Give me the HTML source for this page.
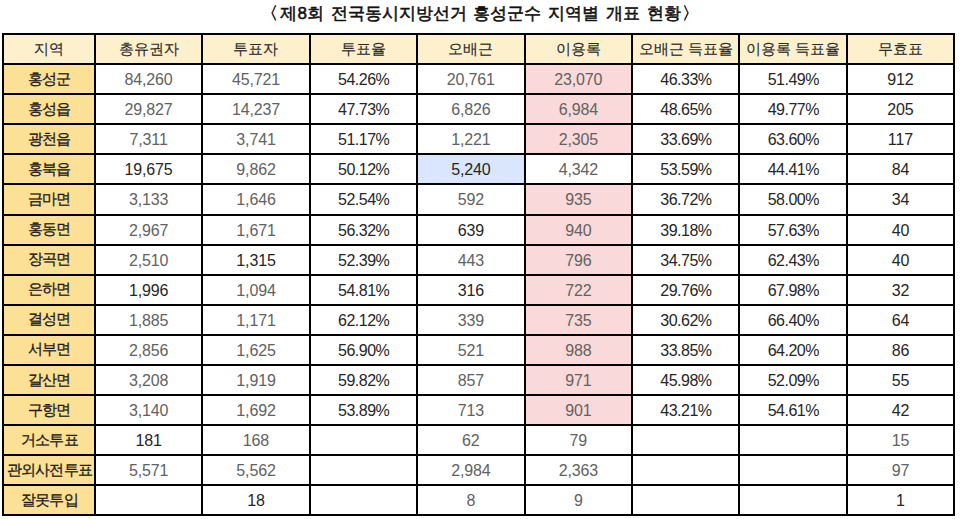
<!DOCTYPE html><html><head><meta charset="utf-8"><style>
*{margin:0;padding:0;box-sizing:border-box}
html,body{width:960px;height:519px;background:#fff;overflow:hidden;font-family:"Liberation Sans",sans-serif}
.t{position:absolute;left:0;top:4px;width:960px;text-align:center;font-size:17px;font-weight:normal;-webkit-text-stroke:0.55px #111;color:#111;line-height:20px;white-space:nowrap;word-spacing:2px}
.c{position:absolute;display:flex;align-items:center;justify-content:center;white-space:nowrap}
.h{background:#fdf1cd;color:#2b2b2b;font-size:15px;-webkit-text-stroke:0.15px #2b2b2b}
.k{background:#fbe095;color:#1a1a1a;font-size:15px;letter-spacing:-0.8px;text-indent:0.8px;-webkit-text-stroke:0.3px #1a1a1a}
.n{font-size:16px;letter-spacing:-0.15px;padding-top:2px}
.g{color:#626262}
.d{color:#262626}
.p{background:#f9d9d9}
.b{background:#d9e6fb}
.l{position:absolute;background:#000}
.pc{letter-spacing:-0.5px;text-indent:0.5px}
</style></head><body>
<div class="t"><span style="margin-right:2px">〈</span>제8회 전국동시지방선거 홍성군수 지역별 개표 현황<span style="margin-left:1px">〉</span></div>
<div class="c h" style="left:3.00px;top:34.00px;width:91.90px;height:30.09px">지역</div>
<div class="c h" style="left:94.90px;top:34.00px;width:107.40px;height:30.09px">총유권자</div>
<div class="c h" style="left:202.30px;top:34.00px;width:107.40px;height:30.09px">투표자</div>
<div class="c h" style="left:309.70px;top:34.00px;width:107.40px;height:30.09px">투표율</div>
<div class="c h" style="left:417.10px;top:34.00px;width:107.50px;height:30.09px">오배근</div>
<div class="c h" style="left:524.60px;top:34.00px;width:107.40px;height:30.09px">이용록</div>
<div class="c h" style="left:632.00px;top:34.00px;width:107.40px;height:30.09px">오배근 득표율</div>
<div class="c h" style="left:739.40px;top:34.00px;width:107.40px;height:30.09px">이용록 득표율</div>
<div class="c h" style="left:846.80px;top:34.00px;width:107.20px;height:30.09px">무효표</div>
<div class="c k" style="left:3.00px;top:64.09px;width:91.90px;height:30.09px">홍성군</div>
<div class="c n g" style="left:94.90px;top:64.09px;width:107.40px;height:30.09px">84,260</div>
<div class="c n g" style="left:202.30px;top:64.09px;width:107.40px;height:30.09px">45,721</div>
<div class="c n d pc" style="left:309.70px;top:64.09px;width:107.40px;height:30.09px">54.26%</div>
<div class="c n g" style="left:417.10px;top:64.09px;width:107.50px;height:30.09px">20,761</div>
<div class="c n g p" style="left:524.60px;top:64.09px;width:107.40px;height:30.09px">23,070</div>
<div class="c n d pc" style="left:632.00px;top:64.09px;width:107.40px;height:30.09px">46.33%</div>
<div class="c n d pc" style="left:739.40px;top:64.09px;width:107.40px;height:30.09px">51.49%</div>
<div class="c n d" style="left:846.80px;top:64.09px;width:107.20px;height:30.09px">912</div>
<div class="c k" style="left:3.00px;top:94.18px;width:91.90px;height:30.09px">홍성읍</div>
<div class="c n g" style="left:94.90px;top:94.18px;width:107.40px;height:30.09px">29,827</div>
<div class="c n g" style="left:202.30px;top:94.18px;width:107.40px;height:30.09px">14,237</div>
<div class="c n d pc" style="left:309.70px;top:94.18px;width:107.40px;height:30.09px">47.73%</div>
<div class="c n g" style="left:417.10px;top:94.18px;width:107.50px;height:30.09px">6,826</div>
<div class="c n g p" style="left:524.60px;top:94.18px;width:107.40px;height:30.09px">6,984</div>
<div class="c n d pc" style="left:632.00px;top:94.18px;width:107.40px;height:30.09px">48.65%</div>
<div class="c n d pc" style="left:739.40px;top:94.18px;width:107.40px;height:30.09px">49.77%</div>
<div class="c n d" style="left:846.80px;top:94.18px;width:107.20px;height:30.09px">205</div>
<div class="c k" style="left:3.00px;top:124.27px;width:91.90px;height:30.09px">광천읍</div>
<div class="c n g" style="left:94.90px;top:124.27px;width:107.40px;height:30.09px">7,311</div>
<div class="c n g" style="left:202.30px;top:124.27px;width:107.40px;height:30.09px">3,741</div>
<div class="c n d pc" style="left:309.70px;top:124.27px;width:107.40px;height:30.09px">51.17%</div>
<div class="c n g" style="left:417.10px;top:124.27px;width:107.50px;height:30.09px">1,221</div>
<div class="c n g p" style="left:524.60px;top:124.27px;width:107.40px;height:30.09px">2,305</div>
<div class="c n d pc" style="left:632.00px;top:124.27px;width:107.40px;height:30.09px">33.69%</div>
<div class="c n d pc" style="left:739.40px;top:124.27px;width:107.40px;height:30.09px">63.60%</div>
<div class="c n d" style="left:846.80px;top:124.27px;width:107.20px;height:30.09px">117</div>
<div class="c k" style="left:3.00px;top:154.36px;width:91.90px;height:30.09px">홍북읍</div>
<div class="c n d" style="left:94.90px;top:154.36px;width:107.40px;height:30.09px">19,675</div>
<div class="c n g" style="left:202.30px;top:154.36px;width:107.40px;height:30.09px">9,862</div>
<div class="c n d pc" style="left:309.70px;top:154.36px;width:107.40px;height:30.09px">50.12%</div>
<div class="c n d b" style="left:417.10px;top:154.36px;width:107.50px;height:30.09px">5,240</div>
<div class="c n g" style="left:524.60px;top:154.36px;width:107.40px;height:30.09px">4,342</div>
<div class="c n d pc" style="left:632.00px;top:154.36px;width:107.40px;height:30.09px">53.59%</div>
<div class="c n d pc" style="left:739.40px;top:154.36px;width:107.40px;height:30.09px">44.41%</div>
<div class="c n d" style="left:846.80px;top:154.36px;width:107.20px;height:30.09px">84</div>
<div class="c k" style="left:3.00px;top:184.45px;width:91.90px;height:30.09px">금마면</div>
<div class="c n g" style="left:94.90px;top:184.45px;width:107.40px;height:30.09px">3,133</div>
<div class="c n g" style="left:202.30px;top:184.45px;width:107.40px;height:30.09px">1,646</div>
<div class="c n d pc" style="left:309.70px;top:184.45px;width:107.40px;height:30.09px">52.54%</div>
<div class="c n g" style="left:417.10px;top:184.45px;width:107.50px;height:30.09px">592</div>
<div class="c n g p" style="left:524.60px;top:184.45px;width:107.40px;height:30.09px">935</div>
<div class="c n d pc" style="left:632.00px;top:184.45px;width:107.40px;height:30.09px">36.72%</div>
<div class="c n d pc" style="left:739.40px;top:184.45px;width:107.40px;height:30.09px">58.00%</div>
<div class="c n d" style="left:846.80px;top:184.45px;width:107.20px;height:30.09px">34</div>
<div class="c k" style="left:3.00px;top:214.54px;width:91.90px;height:30.09px">홍동면</div>
<div class="c n g" style="left:94.90px;top:214.54px;width:107.40px;height:30.09px">2,967</div>
<div class="c n g" style="left:202.30px;top:214.54px;width:107.40px;height:30.09px">1,671</div>
<div class="c n d pc" style="left:309.70px;top:214.54px;width:107.40px;height:30.09px">56.32%</div>
<div class="c n d" style="left:417.10px;top:214.54px;width:107.50px;height:30.09px">639</div>
<div class="c n g p" style="left:524.60px;top:214.54px;width:107.40px;height:30.09px">940</div>
<div class="c n d pc" style="left:632.00px;top:214.54px;width:107.40px;height:30.09px">39.18%</div>
<div class="c n d pc" style="left:739.40px;top:214.54px;width:107.40px;height:30.09px">57.63%</div>
<div class="c n d" style="left:846.80px;top:214.54px;width:107.20px;height:30.09px">40</div>
<div class="c k" style="left:3.00px;top:244.63px;width:91.90px;height:30.09px">장곡면</div>
<div class="c n g" style="left:94.90px;top:244.63px;width:107.40px;height:30.09px">2,510</div>
<div class="c n d" style="left:202.30px;top:244.63px;width:107.40px;height:30.09px">1,315</div>
<div class="c n d pc" style="left:309.70px;top:244.63px;width:107.40px;height:30.09px">52.39%</div>
<div class="c n g" style="left:417.10px;top:244.63px;width:107.50px;height:30.09px">443</div>
<div class="c n g p" style="left:524.60px;top:244.63px;width:107.40px;height:30.09px">796</div>
<div class="c n d pc" style="left:632.00px;top:244.63px;width:107.40px;height:30.09px">34.75%</div>
<div class="c n d pc" style="left:739.40px;top:244.63px;width:107.40px;height:30.09px">62.43%</div>
<div class="c n d" style="left:846.80px;top:244.63px;width:107.20px;height:30.09px">40</div>
<div class="c k" style="left:3.00px;top:274.72px;width:91.90px;height:30.09px">은하면</div>
<div class="c n d" style="left:94.90px;top:274.72px;width:107.40px;height:30.09px">1,996</div>
<div class="c n g" style="left:202.30px;top:274.72px;width:107.40px;height:30.09px">1,094</div>
<div class="c n d pc" style="left:309.70px;top:274.72px;width:107.40px;height:30.09px">54.81%</div>
<div class="c n d" style="left:417.10px;top:274.72px;width:107.50px;height:30.09px">316</div>
<div class="c n g p" style="left:524.60px;top:274.72px;width:107.40px;height:30.09px">722</div>
<div class="c n d pc" style="left:632.00px;top:274.72px;width:107.40px;height:30.09px">29.76%</div>
<div class="c n d pc" style="left:739.40px;top:274.72px;width:107.40px;height:30.09px">67.98%</div>
<div class="c n d" style="left:846.80px;top:274.72px;width:107.20px;height:30.09px">32</div>
<div class="c k" style="left:3.00px;top:304.81px;width:91.90px;height:30.09px">결성면</div>
<div class="c n g" style="left:94.90px;top:304.81px;width:107.40px;height:30.09px">1,885</div>
<div class="c n g" style="left:202.30px;top:304.81px;width:107.40px;height:30.09px">1,171</div>
<div class="c n d pc" style="left:309.70px;top:304.81px;width:107.40px;height:30.09px">62.12%</div>
<div class="c n g" style="left:417.10px;top:304.81px;width:107.50px;height:30.09px">339</div>
<div class="c n g p" style="left:524.60px;top:304.81px;width:107.40px;height:30.09px">735</div>
<div class="c n d pc" style="left:632.00px;top:304.81px;width:107.40px;height:30.09px">30.62%</div>
<div class="c n d pc" style="left:739.40px;top:304.81px;width:107.40px;height:30.09px">66.40%</div>
<div class="c n d" style="left:846.80px;top:304.81px;width:107.20px;height:30.09px">64</div>
<div class="c k" style="left:3.00px;top:334.90px;width:91.90px;height:30.09px">서부면</div>
<div class="c n g" style="left:94.90px;top:334.90px;width:107.40px;height:30.09px">2,856</div>
<div class="c n g" style="left:202.30px;top:334.90px;width:107.40px;height:30.09px">1,625</div>
<div class="c n d pc" style="left:309.70px;top:334.90px;width:107.40px;height:30.09px">56.90%</div>
<div class="c n g" style="left:417.10px;top:334.90px;width:107.50px;height:30.09px">521</div>
<div class="c n g p" style="left:524.60px;top:334.90px;width:107.40px;height:30.09px">988</div>
<div class="c n d pc" style="left:632.00px;top:334.90px;width:107.40px;height:30.09px">33.85%</div>
<div class="c n d pc" style="left:739.40px;top:334.90px;width:107.40px;height:30.09px">64.20%</div>
<div class="c n d" style="left:846.80px;top:334.90px;width:107.20px;height:30.09px">86</div>
<div class="c k" style="left:3.00px;top:364.99px;width:91.90px;height:30.09px">갈산면</div>
<div class="c n g" style="left:94.90px;top:364.99px;width:107.40px;height:30.09px">3,208</div>
<div class="c n g" style="left:202.30px;top:364.99px;width:107.40px;height:30.09px">1,919</div>
<div class="c n d pc" style="left:309.70px;top:364.99px;width:107.40px;height:30.09px">59.82%</div>
<div class="c n g" style="left:417.10px;top:364.99px;width:107.50px;height:30.09px">857</div>
<div class="c n g p" style="left:524.60px;top:364.99px;width:107.40px;height:30.09px">971</div>
<div class="c n d pc" style="left:632.00px;top:364.99px;width:107.40px;height:30.09px">45.98%</div>
<div class="c n d pc" style="left:739.40px;top:364.99px;width:107.40px;height:30.09px">52.09%</div>
<div class="c n d" style="left:846.80px;top:364.99px;width:107.20px;height:30.09px">55</div>
<div class="c k" style="left:3.00px;top:395.08px;width:91.90px;height:30.09px">구항면</div>
<div class="c n g" style="left:94.90px;top:395.08px;width:107.40px;height:30.09px">3,140</div>
<div class="c n g" style="left:202.30px;top:395.08px;width:107.40px;height:30.09px">1,692</div>
<div class="c n d pc" style="left:309.70px;top:395.08px;width:107.40px;height:30.09px">53.89%</div>
<div class="c n g" style="left:417.10px;top:395.08px;width:107.50px;height:30.09px">713</div>
<div class="c n g p" style="left:524.60px;top:395.08px;width:107.40px;height:30.09px">901</div>
<div class="c n d pc" style="left:632.00px;top:395.08px;width:107.40px;height:30.09px">43.21%</div>
<div class="c n d pc" style="left:739.40px;top:395.08px;width:107.40px;height:30.09px">54.61%</div>
<div class="c n d" style="left:846.80px;top:395.08px;width:107.20px;height:30.09px">42</div>
<div class="c k" style="left:3.00px;top:425.17px;width:91.90px;height:30.09px">거소투표</div>
<div class="c n d" style="left:94.90px;top:425.17px;width:107.40px;height:30.09px">181</div>
<div class="c n g" style="left:202.30px;top:425.17px;width:107.40px;height:30.09px">168</div>
<div class="c n d" style="left:309.70px;top:425.17px;width:107.40px;height:30.09px"></div>
<div class="c n g" style="left:417.10px;top:425.17px;width:107.50px;height:30.09px">62</div>
<div class="c n g" style="left:524.60px;top:425.17px;width:107.40px;height:30.09px">79</div>
<div class="c n d" style="left:632.00px;top:425.17px;width:107.40px;height:30.09px"></div>
<div class="c n d" style="left:739.40px;top:425.17px;width:107.40px;height:30.09px"></div>
<div class="c n g" style="left:846.80px;top:425.17px;width:107.20px;height:30.09px">15</div>
<div class="c k" style="left:3.00px;top:455.26px;width:91.90px;height:30.09px">관외사전투표</div>
<div class="c n g" style="left:94.90px;top:455.26px;width:107.40px;height:30.09px">5,571</div>
<div class="c n g" style="left:202.30px;top:455.26px;width:107.40px;height:30.09px">5,562</div>
<div class="c n d" style="left:309.70px;top:455.26px;width:107.40px;height:30.09px"></div>
<div class="c n g" style="left:417.10px;top:455.26px;width:107.50px;height:30.09px">2,984</div>
<div class="c n g" style="left:524.60px;top:455.26px;width:107.40px;height:30.09px">2,363</div>
<div class="c n d" style="left:632.00px;top:455.26px;width:107.40px;height:30.09px"></div>
<div class="c n d" style="left:739.40px;top:455.26px;width:107.40px;height:30.09px"></div>
<div class="c n g" style="left:846.80px;top:455.26px;width:107.20px;height:30.09px">97</div>
<div class="c k" style="left:3.00px;top:485.35px;width:91.90px;height:30.09px">잘못투입</div>
<div class="c n d" style="left:94.90px;top:485.35px;width:107.40px;height:30.09px"></div>
<div class="c n d" style="left:202.30px;top:485.35px;width:107.40px;height:30.09px">18</div>
<div class="c n d" style="left:309.70px;top:485.35px;width:107.40px;height:30.09px"></div>
<div class="c n g" style="left:417.10px;top:485.35px;width:107.50px;height:30.09px">8</div>
<div class="c n g" style="left:524.60px;top:485.35px;width:107.40px;height:30.09px">9</div>
<div class="c n d" style="left:632.00px;top:485.35px;width:107.40px;height:30.09px"></div>
<div class="c n d" style="left:739.40px;top:485.35px;width:107.40px;height:30.09px"></div>
<div class="c n d" style="left:846.80px;top:485.35px;width:107.20px;height:30.09px">1</div>
<div class="l" style="left:2.00px;top:33.00px;width:953.00px;height:2.0px"></div>
<div class="l" style="left:2.00px;top:63.09px;width:953.00px;height:2.0px"></div>
<div class="l" style="left:2.00px;top:93.18px;width:953.00px;height:2.0px"></div>
<div class="l" style="left:2.00px;top:123.27px;width:953.00px;height:2.0px"></div>
<div class="l" style="left:2.00px;top:153.36px;width:953.00px;height:2.0px"></div>
<div class="l" style="left:2.00px;top:183.45px;width:953.00px;height:2.0px"></div>
<div class="l" style="left:2.00px;top:213.54px;width:953.00px;height:2.0px"></div>
<div class="l" style="left:2.00px;top:243.63px;width:953.00px;height:2.0px"></div>
<div class="l" style="left:2.00px;top:273.72px;width:953.00px;height:2.0px"></div>
<div class="l" style="left:2.00px;top:303.81px;width:953.00px;height:2.0px"></div>
<div class="l" style="left:2.00px;top:333.90px;width:953.00px;height:2.0px"></div>
<div class="l" style="left:2.00px;top:363.99px;width:953.00px;height:2.0px"></div>
<div class="l" style="left:2.00px;top:394.08px;width:953.00px;height:2.0px"></div>
<div class="l" style="left:2.00px;top:424.17px;width:953.00px;height:2.0px"></div>
<div class="l" style="left:2.00px;top:454.26px;width:953.00px;height:2.0px"></div>
<div class="l" style="left:2.00px;top:484.35px;width:953.00px;height:2.0px"></div>
<div class="l" style="left:2.00px;top:514.44px;width:953.00px;height:2.0px"></div>
<div class="l" style="left:2.00px;top:33.00px;width:2.0px;height:483.44px"></div>
<div class="l" style="left:93.90px;top:33.00px;width:2.0px;height:483.44px"></div>
<div class="l" style="left:201.30px;top:33.00px;width:2.0px;height:483.44px"></div>
<div class="l" style="left:308.70px;top:33.00px;width:2.0px;height:483.44px"></div>
<div class="l" style="left:416.10px;top:33.00px;width:2.0px;height:483.44px"></div>
<div class="l" style="left:523.60px;top:33.00px;width:2.0px;height:483.44px"></div>
<div class="l" style="left:631.00px;top:33.00px;width:2.0px;height:483.44px"></div>
<div class="l" style="left:738.40px;top:33.00px;width:2.0px;height:483.44px"></div>
<div class="l" style="left:845.80px;top:33.00px;width:2.0px;height:483.44px"></div>
<div class="l" style="left:953.00px;top:33.00px;width:2.0px;height:483.44px"></div>
</body></html>
